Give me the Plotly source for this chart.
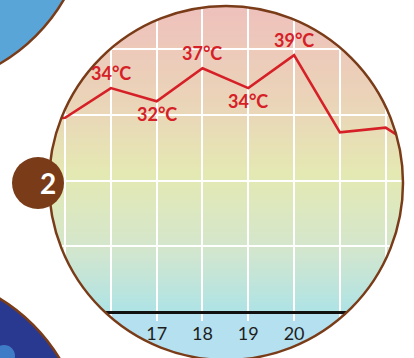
import plotly.graph_objects as go
import numpy as np

# ---------------- data ----------------
days = [14, 15, 16, 17, 18, 19, 20, 21, 22, 23]
temps = [29.0, 29.5, 34, 32, 37, 34, 39, 27.3, 28.0, 23.5]
labeled_days = [16, 17, 18, 19, 20]
tick_days = [15, 16, 17, 18, 19, 20, 21, 22]
tick_text = ["", "", "17", "18", "19", "20", "", ""]
grid_temps = [0, 10, 20, 30, 40]
badge_text = "2"

# ---------------- geometry / style ----------------
W, H = 414, 358
MT, MB = 0, 37
PH = H - MT - MB
X_RANGE = [13.579, 22.618]
Y_RANGE = [-1.29, 47.35]
RED = "#D62027"
BROWN = "#7A3C18"

def px2paper(px, py):
    return px / W, (MT + PH - py) / PH

# gradient stops (data-y, colour)
stops = [(0.0, (0xAE, 0xE3, 0xE6)), (9.5, (0xD3, 0xE6, 0xCD)), (20.8, (0xE4, 0xE9, 0xB3)),
         (30.7, (0xEA, 0xD6, 0xB8)), (47.4, (0xEF, 0xBF, 0xBC))]

def col_at(v):
    for (a, ca), (b, cb) in zip(stops[:-1], stops[1:]):
        if a <= v <= b:
            t = (v - a) / (b - a)
            c = [round(ca[i] + (cb[i] - ca[i]) * t) for i in range(3)]
            return "rgb(%d,%d,%d)" % tuple(c)
    return "rgb(%d,%d,%d)" % stops[-1][1]

shapes = []
n = 120
top = Y_RANGE[1]
dy = top / n
for i in range(n):
    y0 = i * dy
    shapes.append(dict(type="rect", xref="paper", yref="y", x0=0, x1=1, y0=y0, y1=y0 + dy * 1.3,
                       fillcolor=col_at(y0 + dy / 2), line_width=0, layer="below"))

# white mask outside main circle
CX, CY, R = 226, 183, 177
pts = []
for t in np.linspace(0, 2 * np.pi, 241)[:-1]:
    pts.append(px2paper(CX + R * np.cos(t), CY + R * np.sin(t)))
path = "M -0.2,-0.3 L 1.2,-0.3 L 1.2,1.3 L -0.2,1.3 Z M " + " L ".join("%.5f,%.5f" % p for p in pts) + " Z"
shapes.append(dict(type="path", xref="paper", yref="paper", path=path, fillcolor="white",
                   line_width=0, layer="above", fillrule="evenodd"))

def circ(cx, cy, r, fill, lw=2.5, lc=BROWN):
    x0, y1 = px2paper(cx - r, cy - r)
    x1, y0 = px2paper(cx + r, cy + r)
    return dict(type="circle", xref="paper", yref="paper", x0=x0, x1=x1, y0=y0, y1=y1,
                fillcolor=fill, line=dict(color=lc, width=lw), layer="above")

shapes.append(circ(CX, CY, R, "rgba(0,0,0,0)"))
shapes.append(circ(-90, -90, 178, "#5AA5D8"))
shapes.append(circ(-92, 450, 177, "#2A3990"))
shapes.append(circ(4, 356, 11, "#3F7CC8", lw=0, lc="rgba(0,0,0,0)"))
shapes.append(circ(38, 183, 26, BROWN, lw=0, lc="rgba(0,0,0,0)"))

fig = go.Figure()
fig.add_trace(go.Scatter(x=days, y=temps, mode="lines", line=dict(color=RED, width=2.6),
                         hoverinfo="skip", showlegend=False))

annotations = []
for d in labeled_days:
    i = days.index(d)
    v = temps[i]
    above = v > temps[i - 1] and v > temps[i + 1]
    annotations.append(dict(x=d, y=v, xref="x", yref="y", text="%g°C" % v, showarrow=False,
                            yshift=15 if above else -13,
                            font=dict(family="Lato", size=18, color=RED, weight="bold")))
bx, by = px2paper(38, 183)
annotations.append(dict(x=bx, y=by, xref="paper", yref="paper", text=badge_text, showarrow=False,
                        font=dict(family="Lato", size=28, color="white", weight="bold")))

fig.update_layout(
    width=W, height=H, margin=dict(l=0, r=0, t=MT, b=MB),
    paper_bgcolor="#B4E0F0", plot_bgcolor="#B4E0F0",
    shapes=shapes, annotations=annotations, showlegend=False,
    xaxis=dict(range=X_RANGE, tickvals=tick_days, ticktext=tick_text, showgrid=True,
               gridcolor="white", gridwidth=1.5, zeroline=False, showline=False, ticks="",
               tickfont=dict(family="Lato", size=18, color="#1E1E1E"), fixedrange=True),
    yaxis=dict(range=Y_RANGE, tickvals=grid_temps, showticklabels=False, showgrid=True,
               gridcolor="white", gridwidth=1.5, zeroline=True, zerolinecolor="#111111",
               zerolinewidth=2.6, showline=False, fixedrange=True),
)
fig.write_html("out.html", config={"displayModeBar": False})
